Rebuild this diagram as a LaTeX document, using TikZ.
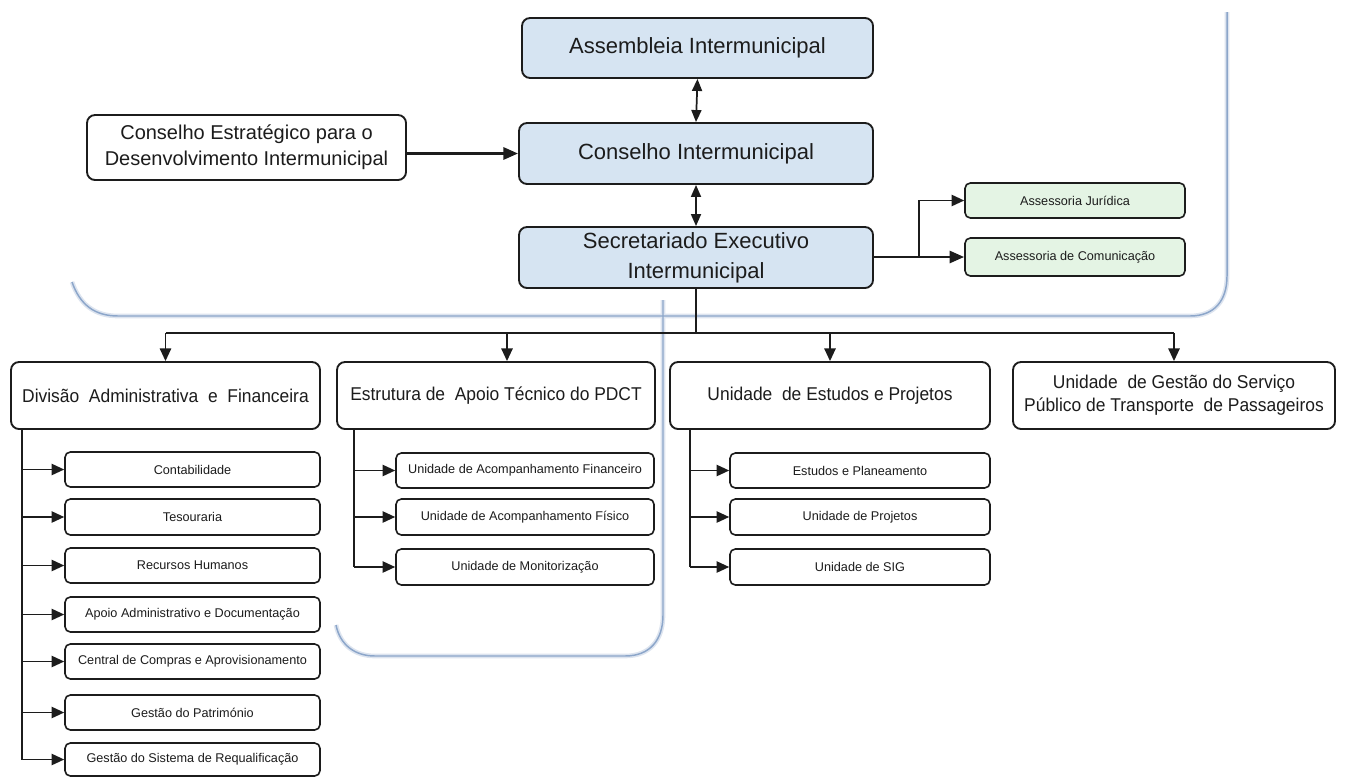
\documentclass[tikz,border=0pt]{standalone}
\usepackage{fontspec}
\setmainfont{Liberation Sans}
\newfontfamily\narrowfont{Liberation Sans}[FakeStretch=0.94]
\usetikzlibrary{arrows.meta,calc}
\definecolor{boxblue}{RGB}{214,228,242}
\definecolor{boxgreen}{RGB}{228,244,228}
\definecolor{frameblue}{RGB}{140,166,202}
\definecolor{linedark}{RGB}{28,28,28}
\tikzset{
  span/.style n args={4}{minimum width={(#3-#1)*0.75pt}, minimum height={(#4-#2)*0.75pt},
     at={({(#1+#3)/2},{(#2+#4)/2})}},
  basebox/.style={draw=linedark, line width=1.4pt, inner sep=0pt, align=center, text=linedark},
  topbox/.style={basebox, rounded corners=6pt, fill=boxblue, font=\fontsize{16.5}{22.5}\selectfont},
  cebox/.style={basebox, rounded corners=6pt, fill=white, font=\fontsize{15}{19.5}\selectfont},
  lvlbox/.style={basebox, rounded corners=6pt, fill=white, font=\narrowfont\fontsize{13.9}{17.5}\selectfont},
  subbox/.style={basebox, line width=1.2pt, rounded corners=4pt, fill=white, font=\fontsize{9.5}{11}\selectfont},
  greenbox/.style={subbox, fill=boxgreen},
  conn/.style={draw=linedark, line width=1.3pt},
  thick conn/.style={draw=linedark, line width=2.2pt},
  arr/.style={conn, -{Triangle[length=9.5pt,width=8.5pt]}},
  darr/.style={conn, {Triangle[length=9pt,width=7.5pt]}-{Triangle[length=9pt,width=7.5pt]}},
  frameglow/.style={draw=frameblue!30, line width=3.5pt},
  frameline/.style={draw=frameblue, line width=1.1pt},
}
\begin{document}
\begin{tikzpicture}[x=0.75pt,y=-0.75pt]
\useasboundingbox (0,0) rectangle (1345,778);
% decorative frames
\foreach \st in {frameglow,frameline}{
  \draw[\st] (72,282) .. controls (80,305) and (95,316) .. (118,316) -- (1190,316)
     .. controls (1215,316) and (1227,300) .. (1227,276) -- (1227,12);
  \draw[\st] (663,300) -- (663,615) .. controls (663,640) and (650,656) .. (625,656) -- (375,656)
     .. controls (355,656) and (340,645) .. (336,625);
}
% top nodes
\node[topbox, span={522}{18}{873}{78}] (asm) {Assembleia Intermunicipal};
\node[topbox, span={519}{123}{873}{184}] (ci) {Conselho Intermunicipal};
\node[topbox, span={519}{227}{873}{288}] (se) {Secretariado Executivo\\Intermunicipal};
\node[cebox, span={87}{115}{406}{180}] (ce) {Conselho Estratégico para o\\Desenvolvimento Intermunicipal};
\node[greenbox, span={965}{183}{1185}{218}] (aj) {Assessoria Jurídica};
\node[greenbox, span={965}{238}{1185}{276}] (ac) {Assessoria de Comunicação};
% level 2
\node[lvlbox, span={11}{362}{320}{429}] (div) {Divisão\ \ Administrativa\ \ e\ \ Financeira};
\node[lvlbox, span={337}{362}{655}{429}] (pdct) {Estrutura de\ \ Apoio Técnico do PDCT};
\node[lvlbox, span={670}{362}{990}{429}] (est) {Unidade\ \ de Estudos e Projetos};
\node[lvlbox, span={1013}{362}{1335}{429}] (gest) {Unidade\ \ de Gestão do Serviço\\Público de Transporte\ \ de Passageiros};
% Divisao subs
\node[subbox, span={65}{452}{320}{487}] (d1) {Contabilidade};
\node[subbox, span={65}{499}{320}{535}] (d2) {Tesouraria};
\node[subbox, span={65}{548}{320}{583}] (d3) {Recursos Humanos};
\node[subbox, span={65}{597}{320}{632}] (d4) {Apoio Administrativo e Documentação};
\node[subbox, span={65}{644}{320}{679}] (d5) {Central de Compras e Aprovisionamento};
\node[subbox, span={65}{695}{320}{730}] (d6) {Gestão do Património};
\node[subbox, span={65}{743}{320}{776}] (d7) {Gestão do Sistema de Requalificação};
% PDCT subs
\node[subbox, span={396}{453}{654}{488}] (p1) {Unidade de Acompanhamento Financeiro};
\node[subbox, span={396}{499}{654}{535}] (p2) {Unidade de Acompanhamento Físico};
\node[subbox, span={396}{549}{654}{585}] (p3) {Unidade de Monitorização};
% Estudos subs
\node[subbox, span={730}{453}{990}{488}] (e1) {Estudos e Planeamento};
\node[subbox, span={730}{499}{990}{535}] (e2) {Unidade de Projetos};
\node[subbox, span={730}{549}{990}{585}] (e3) {Unidade de SIG};
% connectors top
\draw[darr] (asm.south) -- (ci.north);
\draw[darr] (ci.south) -- (se.north);
\draw[thick conn, -{Triangle[length=11pt,width=9pt]}] (ci.west -| ce.east) -- (ci.west);
\coordinate (br) at (919,0);
\draw[thick conn, -{Triangle[length=11pt,width=9pt]}] (se.east |- ac.west) -- (ac.west);
\draw[arr] (br |- ac.west) -- (br |- aj.west) -- (aj.west);
% bus
\coordinate (bus) at (0,333);
\coordinate (pdx) at (507,0);
\draw[conn] (se.south) -- (se.south |- bus);
\draw[conn] (div.north |- bus) -- (gest.north |- bus);
\draw[arr] (div.north |- bus) -- (div.north);
\draw[arr] (pdx |- bus) -- (pdx |- pdct.north);
\draw[arr] (est.north |- bus) -- (est.north);
\draw[arr] (gest.north |- bus) -- (gest.north);
% spines
\coordinate (sd) at (22,0);
\coordinate (sp) at (354,0);
\coordinate (sq) at (690,0);
\draw[conn] (sd |- div.south) -- (sd |- d7.west);
\foreach \n in {d1,d2,d3,d4,d5,d6,d7}{\draw[arr] (sd |- \n.west) -- (\n.west);}
\draw[conn] (sp |- pdct.south) -- (sp |- p3.west);
\foreach \n in {p1,p2,p3}{\draw[arr] (sp |- \n.west) -- (\n.west);}
\draw[conn] (sq |- est.south) -- (sq |- e3.west);
\foreach \n in {e1,e2,e3}{\draw[arr] (sq |- \n.west) -- (\n.west);}
\end{tikzpicture}
\end{document}
